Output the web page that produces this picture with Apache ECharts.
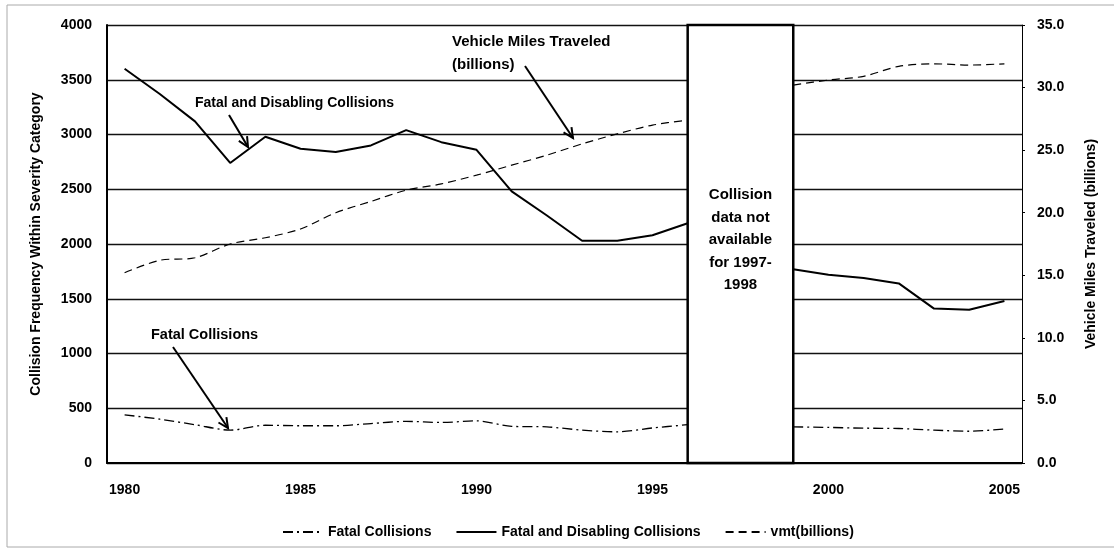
<!DOCTYPE html>
<html>
<head>
<meta charset="utf-8">
<script src="https://cdn.jsdelivr.net/npm/echarts@6/dist/echarts.min.js"></script>
<style>
html, body { margin: 0; padding: 0; background: #fff; }
#chart { width: 1114px; height: 553px; }
</style>
</head>
<body>
<div id="chart"></div>
<script>
// values
const years = ['1980', '1981', '1982', '1983', '1984', '1985', '1986', '1987', '1988', '1989',
  '1990', '1991', '1992', '1993', '1994', '1995', '1996', '1997', '1998', '1999',
  '2000', '2001', '2002', '2003', '2004', '2005'];
const fatal = [440, 400, 350, 300, 345, 340, 340, 360, 380, 370, 385, 335, 330, 300, 285, 320, 350,
  null, null, 330, 325, 318, 315, 300, 290, 310];
const fatalDisabling = [3600, 3370, 3120, 2740, 2980, 2870, 2840, 2900, 3040, 2930, 2860, 2480, 2260,
  2030, 2030, 2080, 2190, null, null, 1770, 1720, 1690, 1640, 1410, 1400, 1480];
const vmt = [15.2, 16.2, 16.4, 17.5, 18.0, 18.7, 20.0, 20.9, 21.8, 22.3, 23.0, 23.8, 24.6, 25.5, 26.3,
  27.0, 27.4, null, null, 30.2, 30.6, 30.9, 31.7, 31.9, 31.8, 31.9];
const gapFrom = '1996';
const gapTo = '1999';

const font = "'Liberation Sans', Arial, sans-serif";

const chart = echarts.init(document.getElementById('chart'), null, { renderer: 'canvas' });

const option = {
  backgroundColor: '#fff',
  animation: false,
  grid: { left: 107, right: 92, top: 25, bottom: 90 },
  legend: {
    top: 520,
    left: 277,
    itemWidth: 40,
    itemHeight: 10,
    itemGap: 24,
    itemStyle: { opacity: 0 },
    textStyle: { fontFamily: font, fontWeight: 'bold', fontSize: 14, color: '#000' },
    data: ['Fatal Collisions', 'Fatal and Disabling Collisions', 'vmt(billions)']
  },
  xAxis: {
    type: 'category',
    data: years,
    boundaryGap: true,
    axisLine: { lineStyle: { color: '#000', width: 2 } },
    axisTick: { show: false },
    axisLabel: {
      interval: 4, margin: 20,
      fontFamily: font, fontWeight: 'bold', fontSize: 14, color: '#000'
    }
  },
  yAxis: [
    {
      type: 'value', min: 0, max: 4000, interval: 500,
      name: 'Collision Frequency Within Severity Category',
      nameLocation: 'middle', nameRotate: 90, nameGap: 64,
      nameTextStyle: { fontFamily: font, fontWeight: 'bold', fontSize: 14, color: '#000' },
      axisLine: { show: true, lineStyle: { color: '#000', width: 2 } },
      axisTick: { show: false },
      axisLabel: {
        margin: 15, fontFamily: font, fontWeight: 'bold', fontSize: 14, color: '#000',
        formatter: v => String(v)
      },
      splitLine: { lineStyle: { color: '#111', width: 1.3 } }
    },
    {
      type: 'value', min: 0, max: 35, interval: 5,
      name: 'Vehicle Miles Traveled (billions)',
      nameLocation: 'middle', nameRotate: 90, nameGap: 62,
      nameTextStyle: { fontFamily: font, fontWeight: 'bold', fontSize: 14, color: '#000' },
      axisLine: { show: true, lineStyle: { color: '#000', width: 1 } },
      axisTick: { show: true, length: 3, lineStyle: { color: '#000' } },
      axisLabel: {
        margin: 15, fontFamily: font, fontWeight: 'bold', fontSize: 14, color: '#000',
        formatter: v => v.toFixed(1)
      },
      splitLine: { show: false }
    }
  ],
  series: [
    {
      name: 'Fatal Collisions', type: 'line', yAxisIndex: 0, data: fatal,
      symbol: 'none', smooth: 0.3, connectNulls: false,
      lineStyle: { color: '#000', width: 1.3, type: [10, 4, 2, 4] },
      itemStyle: { color: '#000' }
    },
    {
      name: 'Fatal and Disabling Collisions', type: 'line', yAxisIndex: 0, data: fatalDisabling,
      symbol: 'none', connectNulls: false,
      lineStyle: { color: '#000', width: 2 },
      itemStyle: { color: '#000' }
    },
    {
      name: 'vmt(billions)', type: 'line', yAxisIndex: 1, data: vmt,
      symbol: 'none', smooth: 0.3, connectNulls: false,
      lineStyle: { color: '#000', width: 1.2, type: [8, 5] },
      itemStyle: { color: '#000' }
    }
  ]
};

chart.setOption(option);

// annotation arrow: shaft plus an open V head
function arrow(x1, y1, x2, y2) {
  const a = Math.atan2(y2 - y1, x2 - x1);
  const len = 11, spread = 0.45;
  return [
    { type: 'line', z: 20, shape: { x1, y1, x2, y2 }, style: { stroke: '#000', lineWidth: 2 } },
    {
      type: 'polyline', z: 20,
      shape: { points: [
        [x2 - len * Math.cos(a - spread), y2 - len * Math.sin(a - spread)],
        [x2, y2],
        [x2 - len * Math.cos(a + spread), y2 - len * Math.sin(a + spread)]
      ] },
      style: { stroke: '#000', lineWidth: 2, fill: null }
    }
  ];
}

function note(x, y, text, size) {
  return {
    type: 'text', z: 20, x, y,
    style: {
      text, fill: '#000', font: 'bold ' + size + 'px ' + font,
      textVerticalAlign: 'middle', lineHeight: 23
    }
  };
}

const tl = chart.convertToPixel({ xAxisIndex: 0, yAxisIndex: 0 }, [gapFrom, 4000]);
const br = chart.convertToPixel({ xAxisIndex: 0, yAxisIndex: 0 }, [gapTo, 0]);

chart.setOption({
  graphic: [
    // faint scan frame
    { type: 'rect', z: 1, shape: { x: 7, y: 5, width: 1120, height: 542 },
      style: { stroke: '#aaa', lineWidth: 1, fill: null } },
    // "no data" box
    { type: 'rect', z: 30,
      shape: { x: tl[0], y: tl[1], width: br[0] - tl[0], height: br[1] - tl[1] },
      style: { fill: '#fff', stroke: '#000', lineWidth: 2.5 } },
    { type: 'text', z: 31, x: (tl[0] + br[0]) / 2, y: 240,
      style: {
        text: 'Collision\ndata not\navailable\nfor 1997-\n1998',
        fill: '#000', font: 'bold 15px ' + font, lineHeight: 22.5,
        textAlign: 'center', textVerticalAlign: 'middle'
      } },
    note(195, 103, 'Fatal and Disabling Collisions', 14),
    note(452, 53, 'Vehicle Miles Traveled\n(billions)', 15),
    note(151, 335, 'Fatal Collisions', 14.5),
    ...arrow(229, 115, 248, 147),
    ...arrow(525, 66, 573, 138),
    ...arrow(173, 347, 228, 428)
  ]
});
</script>
</body>
</html>
